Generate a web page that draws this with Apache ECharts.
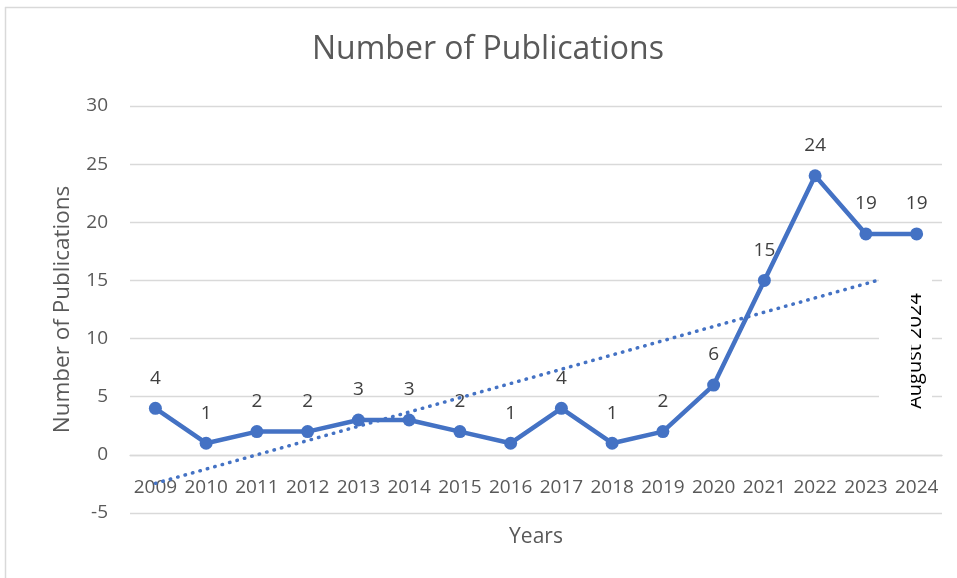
<!DOCTYPE html>
<html>
<head>
<meta charset="utf-8">
<script src="https://cdn.jsdelivr.net/npm/echarts@6/dist/echarts.min.js"></script>
<style>html,body{margin:0;padding:0;background:#fff;}#c{width:957px;height:578px;}</style>
</head>
<body>
<div id="c"></div>
<script>
const years = ['2009','2010','2011','2012','2013','2014','2015','2016','2017','2018','2019','2020','2021','2022','2023','2024'];
const publications = [4, 1, 2, 2, 3, 3, 2, 1, 4, 1, 2, 6, 15, 24, 19, 19];
const yTicks = {min: -5, max: 30, interval: 5};
const noteText = 'August 2024';

// linear trendline (least squares) over the data, x = 1..n
const n = publications.length;
let sx = 0, sy = 0, sxy = 0, sxx = 0;
publications.forEach((v, i) => { const x = i + 1; sx += x; sy += v; sxy += x * v; sxx += x * x; });
const slope = (n * sxy - sx * sy) / (n * sxx - sx * sx);
const intercept = (sy - slope * sx) / n;
const trend = [[years[0], intercept + slope], [years[n - 1], intercept + slope * n]];

const font = 'Open Sans';
const gridTop = 106, gridBottom = 65, H = 578;
const plotH = H - gridTop - gridBottom;
// the category axis crosses the value axis at 0
const zeroOffset = -plotH * (0 - yTicks.min) / (yTicks.max - yTicks.min);

const chart = echarts.init(document.getElementById('c'));
chart.setOption({
  animation: false,
  backgroundColor: '#fff',
  textStyle: {fontFamily: font},
  title: {
    text: 'Number of Publications', left: 312, top: 34, padding: 0,
    textStyle: {fontFamily: font, fontSize: 32, fontWeight: 'normal', color: '#595959'}
  },
  grid: {left: 130, right: 15, top: gridTop, bottom: gridBottom, containLabel: false, outerBoundsMode: 'none'},
  xAxis: {
    type: 'category', data: years, boundaryGap: true, offset: zeroOffset,
    name: 'Years', nameLocation: 'middle', nameGap: 72,
    nameTextStyle: {fontFamily: font, fontSize: 21, color: '#595959'},
    axisLine: {show: true, onZero: false, lineStyle: {color: '#D9D9D9', width: 1.3}},
    axisTick: {show: false},
    axisLabel: {interval: 0, margin: 23, fontFamily: font, fontSize: 19, color: '#595959'}
  },
  yAxis: {
    type: 'value', min: yTicks.min, max: yTicks.max, interval: yTicks.interval,
    name: 'Number of Publications', nameLocation: 'middle', nameGap: 56,
    nameTextStyle: {fontFamily: font, fontSize: 22.5, color: '#595959'},
    axisLine: {show: false}, axisTick: {show: false},
    axisLabel: {margin: 22, fontFamily: font, fontSize: 19, color: '#595959'},
    splitLine: {lineStyle: {color: '#D9D9D9', width: 1.3}}
  },
  series: [{
    type: 'line', data: publications,
    symbol: 'circle', symbolSize: 13,
    itemStyle: {color: '#4472C4'},
    lineStyle: {color: '#4472C4', width: 4.5},
    label: {show: true, position: 'top', distance: 14, fontFamily: font, fontSize: 19, color: '#404040'},
    z: 3
  }, {
    type: 'line', data: trend, symbol: 'none',
    lineStyle: {color: '#4472C4', width: 3.5, type: [0.5, 7.2], cap: 'round'},
    label: {show: false},
    z: 4, silent: true
  }],
  graphic: [
    {type: 'line', shape: {x1: 5, y1: 7.5, x2: 957, y2: 7.5}, style: {stroke: '#D9D9D9', lineWidth: 1.5}, z: 100},
    {type: 'line', shape: {x1: 5.5, y1: 7, x2: 5.5, y2: 578}, style: {stroke: '#D9D9D9', lineWidth: 1.5}, z: 100},
    {type: 'rect', shape: {x: 879, y: 262, width: 53, height: 158}, style: {fill: '#fff'}, z: 100},
    {type: 'text', x: 915, y: 351, rotation: Math.PI / 2,
      style: {text: noteText, fontFamily: font, fontSize: 20, fill: '#000', align: 'center', verticalAlign: 'middle'}, z: 101},
    {type: 'rect', shape: {x: 879, y: 262, width: 32, height: 158}, style: {fill: '#fff'}, z: 102}
  ]
});
</script>
</body>
</html>
